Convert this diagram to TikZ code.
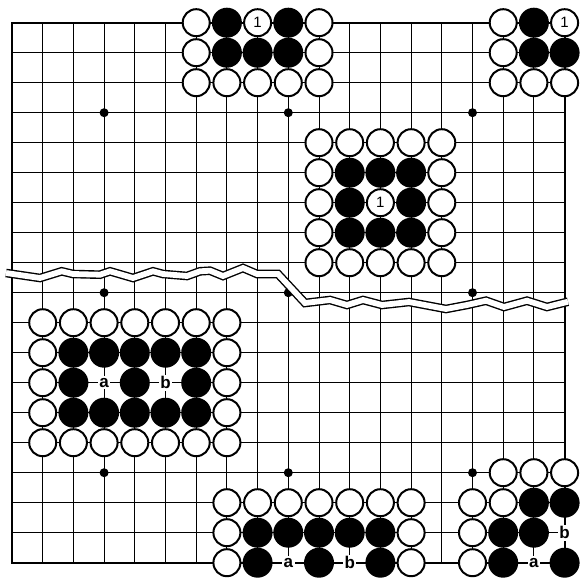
\documentclass[tikz,border=0pt]{standalone}
\usepackage{fontspec}
\newfontfamily\labfont{Liberation Sans}
\begin{document}
\begin{tikzpicture}[x=1pt,y=-1pt,
  bst/.style={circle, fill=black, minimum size=30pt, inner sep=0pt},
  wst/.style={circle, draw=black, line width=2pt, fill=white, minimum size=27pt, inner sep=0pt, font=\labfont\fontsize{15}{15}\selectfont},
  lab/.style={fill=white, inner sep=1.6pt, font=\labfont\bfseries\fontsize{17}{17}\selectfont},
  starpt/.style={circle, fill=black, minimum size=9pt, inner sep=0pt},
  gridline/.style={line width=0.95pt},
  boardedge/.style={line width=2.2pt},
  bandout/.style={line width=8.6pt, black, line join=miter, miter limit=20},
  bandin/.style={line width=5.8pt, white, line join=miter, miter limit=20},
]
\useasboundingbox (0,0) rectangle (584,578);
% grid coordinates
\foreach \c in {1,...,19}{
  \foreach \r in {1,...,19}{
    \coordinate (g-\c-\r) at ({12+(\c-1)*30.7},{22.7+(\r-1)*30});
  }
}
% grid lines
\foreach \i in {2,...,18}{
  \draw[gridline] (g-1-\i) -- (g-19-\i);
  \draw[gridline] (g-\i-1) -- (g-\i-19);
}
\draw[boardedge] (g-1-1) rectangle (g-19-19);
% star points
\foreach \c in {4,10,16}{
  \foreach \r in {4,10,16}{
    \node[starpt] (s-\c-\r) at (g-\c-\r) {};
  }
}
% break band
\def\bandpath{(6,273) -- (40,278) -- (61.7,271.3) -- (73,274) -- (100,274.7) -- (110,271.3) -- (133,278) -- (153,271.3) -- (163,274) -- (187,276) -- (200,271.3) -- (210,270.7) -- (223,276) -- (243,268) -- (257,274) -- (278,274) -- (305,303) -- (330,300) -- (347,305) -- (363,300) -- (382,305) -- (409,302) -- (446,309) -- (467,305) -- (486,300.7) -- (504,307) -- (527,300.7) -- (547,307) -- (568,301.7)}
\draw[bandout] \bandpath;
\draw[bandin] \bandpath;
% white stones
\foreach \c/\r in {7/1,11/1,7/2,11/2,7/3,8/3,9/3,10/3,11/3,
  17/1,17/2,17/3,18/3,19/3,
  11/5,12/5,13/5,14/5,15/5,11/9,12/9,13/9,14/9,15/9,11/6,15/6,11/7,15/7,11/8,15/8,
  2/11,3/11,4/11,5/11,6/11,7/11,8/11,2/15,3/15,4/15,5/15,6/15,7/15,8/15,2/12,8/12,2/13,8/13,2/14,8/14,
  8/17,9/17,10/17,11/17,12/17,13/17,14/17,8/18,14/18,8/19,14/19,
  17/16,18/16,19/16,16/17,17/17,16/18,16/19}{
  \node[wst] (w-\c-\r) at (g-\c-\r) {};
}
\node[wst] (w-9-1) at (g-9-1) {1};
\node[wst] (w-19-1) at (g-19-1) {1};
\node[wst] (w-13-7) at (g-13-7) {1};
% black stones
\foreach \c/\r in {8/1,10/1,8/2,9/2,10/2,
  18/1,18/2,19/2,
  12/6,13/6,14/6,12/7,14/7,12/8,13/8,14/8,
  3/12,4/12,5/12,6/12,7/12,3/14,4/14,5/14,6/14,7/14,3/13,5/13,7/13,
  9/18,10/18,11/18,12/18,13/18,9/19,11/19,13/19,
  18/17,19/17,17/18,18/18,17/19,19/19}{
  \node[bst] (b-\c-\r) at (g-\c-\r) {};
}
% labels
\node[lab] (la-1) at (g-4-13) {a};
\node[lab] (lb-1) at (g-6-13) {b};
\node[lab] (la-2) at (g-10-19) {a};
\node[lab] (lb-2) at (g-12-19) {b};
\node[lab] (la-3) at (g-18-19) {a};
\node[lab] (lb-3) at (g-19-18) {b};
\end{tikzpicture}
\end{document}
